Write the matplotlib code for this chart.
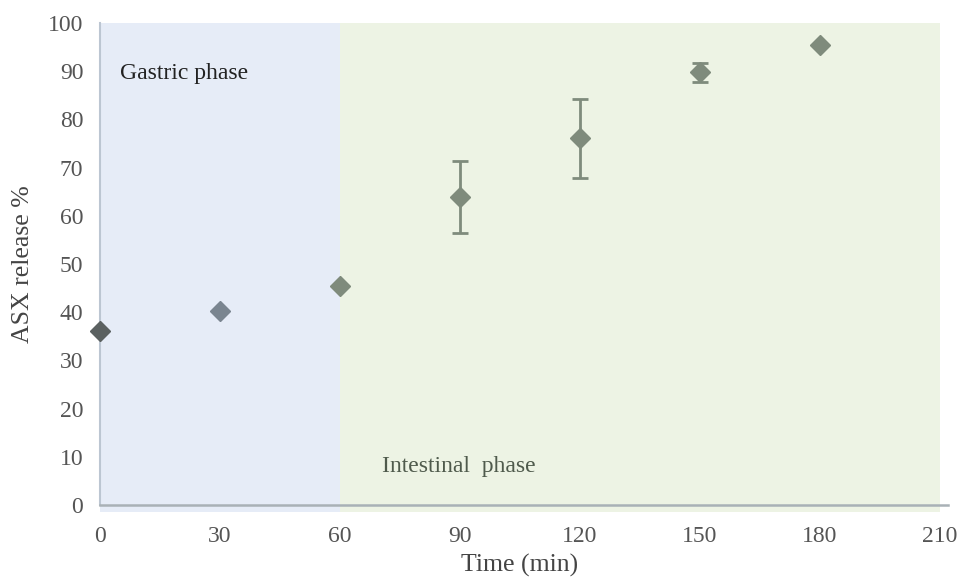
import matplotlib
matplotlib.use("Agg")
import matplotlib.pyplot as plt
from matplotlib.patches import Rectangle

# release data (mean +/- sd)
time_min = [0, 30, 60, 90, 120, 150, 180]
release_pct = [36.1, 40.3, 45.5, 63.9, 76.1, 89.8, 95.4]
release_err = [0, 0, 0, 7.5, 8.2, 2.0, 0]
marker_colors = ["#5b6161", "#7a8590", "#7f8b7c", "#7f8b7c", "#7f8b7c", "#7f8b7c", "#7f8b7c"]

x_ticks = [0, 30, 60, 90, 120, 150, 180, 210]
y_ticks = list(range(0, 101, 10))

plt.rcParams['font.family'] = ['Liberation Serif', 'DejaVu Serif']

fig = plt.figure(figsize=(9.67, 5.82), dpi=100)
ax = fig.add_axes([0.1034, 0.1323, 0.8686, 0.8282])

# phase backgrounds
ax.add_patch(Rectangle((0, -1.5), 60, 101.5, facecolor="#e6ecf7", edgecolor="none",
                       clip_on=False, zorder=0))
ax.add_patch(Rectangle((60, -1.5), 150, 101.5, facecolor="#edf3e4", edgecolor="none",
                       clip_on=False, zorder=0))

for t, r, e, c in zip(time_min, release_pct, release_err, marker_colors):
    ax.errorbar(t, r, yerr=e if e else None, fmt="D", color=c, markersize=10,
                ecolor="#7f8b7c", elinewidth=2, capsize=6, capthick=2,
                clip_on=False, zorder=3)

ax.text(5, 89.5, "Gastric phase", fontsize=17, color="#222222", va="center")
ax.text(70.5, 8, "Intestinal  phase", fontsize=17, color="#4f5a4c", va="center")

ax.set_xlim(0, 210)
ax.set_ylim(0, 100)
ax.set_xticks(x_ticks)
ax.set_yticks(y_ticks)
ax.tick_params(length=0, labelsize=17, labelcolor="#555555")
ax.tick_params(axis="x", pad=15)
ax.tick_params(axis="y", pad=12)

for side in ["top", "right"]:
    ax.spines[side].set_visible(False)
ax.spines["left"].set_color("#bcc6d2")
ax.spines["left"].set_linewidth(1.5)
ax.spines["bottom"].set_color("#a9b1b6")
ax.spines["bottom"].set_linewidth(1.8)
ax.spines["bottom"].set_bounds(0, 212)

ax.set_xlabel("Time (min)", fontsize=18.5, color="#444444", labelpad=5)
ax.set_ylabel("ASX release %", fontsize=18.5, color="#444444", labelpad=10)

fig.savefig("out.png", dpi=100)
